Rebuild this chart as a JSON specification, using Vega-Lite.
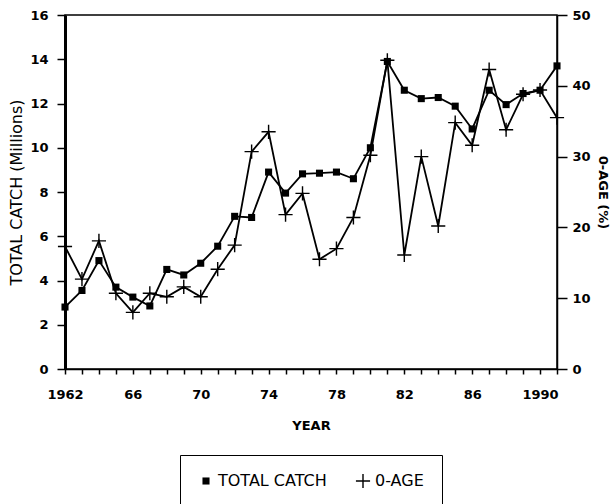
{
  "$schema": "https://vega.github.io/schema/vega-lite/v6.json",
  "width": 492,
  "height": 354,
  "autosize": {"type": "none"},
  "padding": {"left": 65, "top": 15, "right": 58, "bottom": 135},
  "background": "white",
  "config": {
    "view": {"stroke": "black", "strokeWidth": 1.5},
    "font": "DejaVu Sans",
    "axis": {
      "grid": false,
      "domainColor": "black",
      "domainWidth": 1.5,
      "tickColor": "black",
      "tickWidth": 1.5,
      "labelColor": "black",
      "labelFont": "DejaVu Sans",
      "labelFontSize": 13,
      "labelFontWeight": "bold",
      "titleColor": "black",
      "titleFont": "DejaVu Sans",
      "titleFontSize": 14,
      "labelOverlap": false,
      "labelFlush": false
    },
    "legend": {"strokeColor": "black"}
  },
  "data": {
    "values": [
      {"year": 1962, "catch": 2.8, "age0": 17.3},
      {"year": 1963, "catch": 3.55, "age0": 12.7},
      {"year": 1964, "catch": 4.9, "age0": 18.1},
      {"year": 1965, "catch": 3.7, "age0": 10.7},
      {"year": 1966, "catch": 3.25, "age0": 8.0},
      {"year": 1967, "catch": 2.85, "age0": 10.7},
      {"year": 1968, "catch": 4.5, "age0": 10.2},
      {"year": 1969, "catch": 4.25, "age0": 11.6},
      {"year": 1970, "catch": 4.78, "age0": 10.2},
      {"year": 1971, "catch": 5.55, "age0": 14.1},
      {"year": 1972, "catch": 6.9, "age0": 17.5},
      {"year": 1973, "catch": 6.85, "age0": 30.7},
      {"year": 1974, "catch": 8.9, "age0": 33.5},
      {"year": 1975, "catch": 7.95, "age0": 21.8},
      {"year": 1976, "catch": 8.82, "age0": 24.8},
      {"year": 1977, "catch": 8.85, "age0": 15.5},
      {"year": 1978, "catch": 8.9, "age0": 17.0},
      {"year": 1979, "catch": 8.6, "age0": 21.4},
      {"year": 1980, "catch": 10.0, "age0": 30.2},
      {"year": 1981, "catch": 13.9, "age0": 43.6},
      {"year": 1982, "catch": 12.6, "age0": 16.1},
      {"year": 1983, "catch": 12.22, "age0": 30.0},
      {"year": 1984, "catch": 12.27, "age0": 20.2},
      {"year": 1985, "catch": 11.88, "age0": 34.8},
      {"year": 1986, "catch": 10.85, "age0": 31.6},
      {"year": 1987, "catch": 12.6, "age0": 42.3},
      {"year": 1988, "catch": 11.95, "age0": 33.8},
      {"year": 1989, "catch": 12.45, "age0": 38.8},
      {"year": 1990, "catch": 12.6, "age0": 39.4},
      {"year": 1991, "catch": 13.7, "age0": 35.5}
    ]
  },
  "encoding": {
    "x": {
      "field": "year",
      "type": "quantitative",
      "scale": {"domain": [1962, 1991], "nice": false, "zero": false},
      "axis": {
        "title": "YEAR",
        "titleFontWeight": "bold",
        "titleFontSize": 13,
        "titlePadding": 18,
        "values": [1962, 1963, 1964, 1965, 1966, 1967, 1968, 1969, 1970, 1971, 1972, 1973, 1974, 1975, 1976, 1977, 1978, 1979, 1980, 1981, 1982, 1983, 1984, 1985, 1986, 1987, 1988, 1989, 1990, 1991],
        "labelExpr": "datum.value % 4 === 2 ? ((datum.value === 1962 || datum.value === 1990) ? toString(datum.value) : substring(toString(datum.value), 2)) : ''",
        "tickSize": 5,
        "labelPadding": 14
      }
    }
  },
  "layer": [
    {
      "encoding": {
        "y": {
          "field": "catch",
          "type": "quantitative",
          "scale": {"domain": [0, 16], "nice": false},
          "axis": {
            "orient": "left",
            "title": "TOTAL CATCH (Millions)",
            "titleFontWeight": "normal",
            "titleFontSize": 16,
            "titlePadding": 5,
            "values": [0, 2, 4, 6, 8, 10, 12, 14, 16],
            "domainWidth": 3,
            "tickSize": 8,
            "labelPadding": 9
          }
        }
      },
      "layer": [
        {"mark": {"type": "line", "color": "black", "strokeWidth": 1.8}},
        {
          "mark": {"type": "point", "filled": true, "fill": "black", "size": 200, "opacity": 1},
          "encoding": {
            "shape": {
              "datum": "TOTAL CATCH",
              "type": "nominal",
              "scale": {
                "domain": ["TOTAL CATCH", "0-AGE"],
                "range": ["M-0.5,-0.5H0.5V0.5H-0.5Z", "M-1,-0.1H1V0.1H-1Z M-0.1,-1H0.1V1H-0.1Z"]
              },
              "legend": {
                "title": null,
                "orient": "none",
                "legendX": 115,
                "legendY": 440,
                "direction": "horizontal",
                "strokeColor": "black",
                "fillColor": "white",
                "padding": 18,
                "symbolSize": 200,
                "symbolFillColor": "black",
                "symbolStrokeColor": "black",
                "symbolStrokeWidth": 0,
                "labelFont": "DejaVu Sans",
                "labelFontSize": 16,
                "labelColor": "black",
                "labelOffset": 4,
                "columnPadding": 28
              }
            }
          }
        }
      ]
    },
    {
      "encoding": {
        "y": {
          "field": "age0",
          "type": "quantitative",
          "scale": {"domain": [0, 50], "nice": false},
          "axis": {
            "orient": "right",
            "title": "0-AGE (%)",
            "titleFontWeight": "bold",
            "titleFontSize": 13,
            "titlePadding": 5,
            "values": [0, 10, 20, 30, 40, 50],
            "tickSize": 10,
            "labelPadding": 5
          }
        }
      },
      "layer": [
        {"mark": {"type": "line", "color": "black", "strokeWidth": 1.8}},
        {
          "mark": {"type": "point", "filled": true, "fill": "black", "size": 200, "opacity": 1},
          "encoding": {
            "shape": {"datum": "0-AGE", "type": "nominal"}
          }
        }
      ]
    }
  ],
  "resolve": {"scale": {"y": "independent"}}
}
